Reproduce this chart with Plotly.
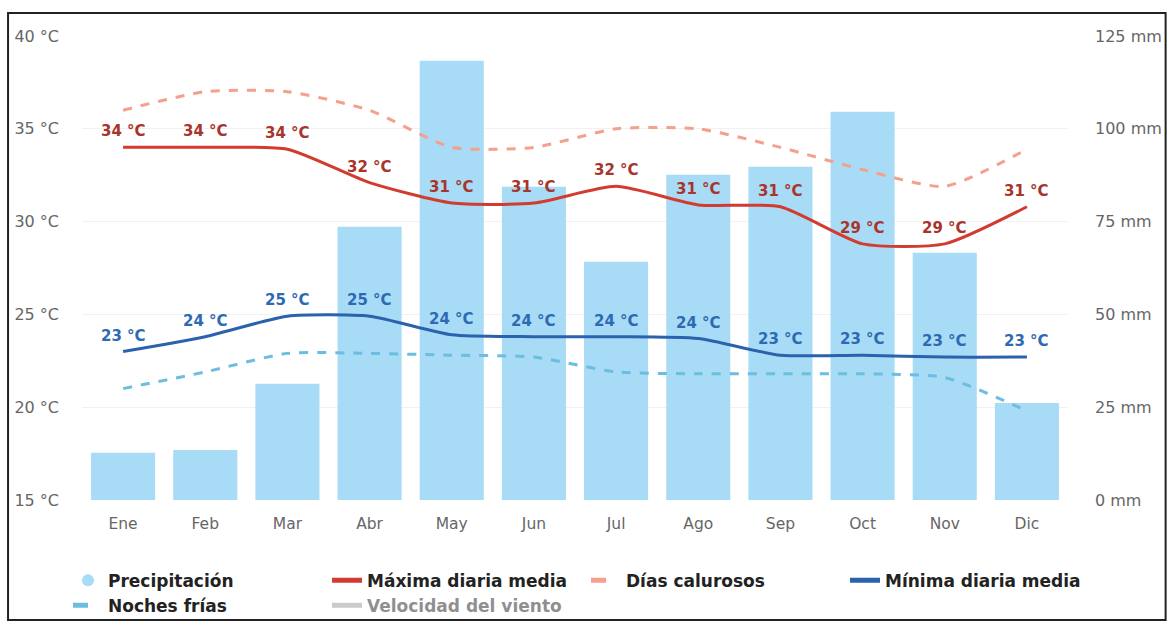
import plotly.graph_objects as go

months = ["Ene", "Feb", "Mar", "Abr", "May", "Jun", "Jul", "Ago", "Sep", "Oct", "Nov", "Dic"]
precip_mm = [12.7, 13.5, 31.3, 73.6, 118.3, 84.4, 64.2, 87.6, 89.8, 104.6, 66.6, 26.1]
max_media = [34.0, 34.0, 33.9, 32.1, 31.0, 31.0, 31.9, 30.9, 30.8, 28.8, 28.8, 30.8]
min_media = [23.0, 23.8, 24.9, 24.9, 23.9, 23.8, 23.8, 23.7, 22.8, 22.8, 22.7, 22.7]
dias_calurosos = [36.0, 37.0, 37.0, 36.0, 34.0, 34.0, 35.0, 35.0, 34.0, 32.8, 31.9, 33.9]
noches_frias = [21.0, 21.9, 22.9, 22.9, 22.8, 22.7, 21.9, 21.8, 21.8, 21.8, 21.6, 19.8]
temp_ticks = [15, 20, 25, 30, 35, 40]
mm_ticks = [0, 25, 50, 75, 100, 125]

C_BAR = "#a8dcf6"
C_MAX = "#d23b30"
C_MAX_TXT = "#a8342b"
C_HOT = "#f4a08c"
C_MIN = "#2a62ad"
C_MIN_TXT = "#2d6ab3"
C_COLD = "#6cbde0"
FONT = "DejaVu Sans"
SM = 0.6

fig = go.Figure()

fig.add_trace(go.Bar(x=months, y=precip_mm, yaxis="y", marker=dict(color=C_BAR, line=dict(width=0)),
                     showlegend=False, name="Precipitación"))
fig.add_trace(go.Scatter(x=[None], y=[None], mode="markers", name="Precipitación", yaxis="y2",
                         marker=dict(symbol="circle", size=17, color=C_BAR)))
fig.add_trace(go.Scatter(x=months, y=max_media, mode="lines", name="Máxima diaria media", yaxis="y2",
                         line=dict(color=C_MAX, width=3, shape="spline", smoothing=SM)))
fig.add_trace(go.Scatter(x=months, y=dias_calurosos, mode="lines", name="Días calurosos", yaxis="y2",
                         line=dict(color=C_HOT, width=3, dash="dash", shape="spline", smoothing=SM)))
fig.add_trace(go.Scatter(x=months, y=min_media, mode="lines", name="Mínima diaria media", yaxis="y2",
                         line=dict(color=C_MIN, width=3, shape="spline", smoothing=SM)))
fig.add_trace(go.Scatter(x=months, y=noches_frias, mode="lines", name="Noches frías", yaxis="y2",
                         line=dict(color=C_COLD, width=3, dash="dash", shape="spline", smoothing=SM)))
fig.add_trace(go.Scatter(x=[None], y=[None], mode="lines", name="Velocidad del viento", yaxis="y2",
                         visible="legendonly", line=dict(color="#999999", width=3)))

annotations = []
for m, v in zip(months, max_media):
    annotations.append(dict(x=m, y=v, xref="x", yref="y2", text=f"{round(v)} °C", showarrow=False,
                            yanchor="bottom", yshift=5,
                            font=dict(family=FONT, size=15, color=C_MAX_TXT, weight="bold")))
for m, v in zip(months, min_media):
    annotations.append(dict(x=m, y=v, xref="x", yref="y2", text=f"{round(v)} °C", showarrow=False,
                            yanchor="bottom", yshift=5,
                            font=dict(family=FONT, size=15, color=C_MIN_TXT, weight="bold")))

fig.update_layout(
    width=1170, height=624,
    margin=dict(l=82, r=102, t=36, b=124, autoexpand=False),
    paper_bgcolor="white", plot_bgcolor="white",
    bargap=0.22,
    font=dict(family=FONT, size=14, color="#666666"),
    xaxis=dict(type="category", showgrid=False, showline=False, ticks="", ticklabelstandoff=12,
               automargin=False, tickfont=dict(size=15.5, color="#666666")),
    yaxis=dict(range=[0, 125], tickvals=mm_ticks, ticktext=[f"{t} mm" for t in mm_ticks],
               side="right", showgrid=False, zeroline=False, showline=False, automargin=False,
               ticks="", ticklabelstandoff=26, tickfont=dict(size=16, color="#666666")),
    yaxis2=dict(range=[15, 40], tickvals=temp_ticks, ticktext=[f"{t} °C" for t in temp_ticks],
                overlaying="y", side="left", showgrid=True, gridcolor="#f1f1f1", zeroline=False,
                showline=False, ticks="", automargin=False,
                ticklabelstandoff=22, tickfont=dict(size=16, color="#666666")),
    legend=dict(orientation="h", x=-0.0142, xanchor="left", xref="paper",
                y=-0.135, yanchor="top", yref="paper",
                entrywidth=214, entrywidthmode="pixels", traceorder="normal",
                font=dict(family=FONT, size=17, color="#222222", weight="bold"),
                itemsizing="constant", bgcolor="rgba(0,0,0,0)"),
    annotations=annotations,
    shapes=[dict(type="rect", xref="paper", yref="paper", x0=-0.075, x1=1.099, y0=-0.2586, y1=1.0496,
                 line=dict(color="#222222", width=2), layer="below")],
)

fig.write_html("out.html", config={"displayModeBar": False},
               post_script="document.body.style.margin='0';document.body.style.overflow='hidden';")
